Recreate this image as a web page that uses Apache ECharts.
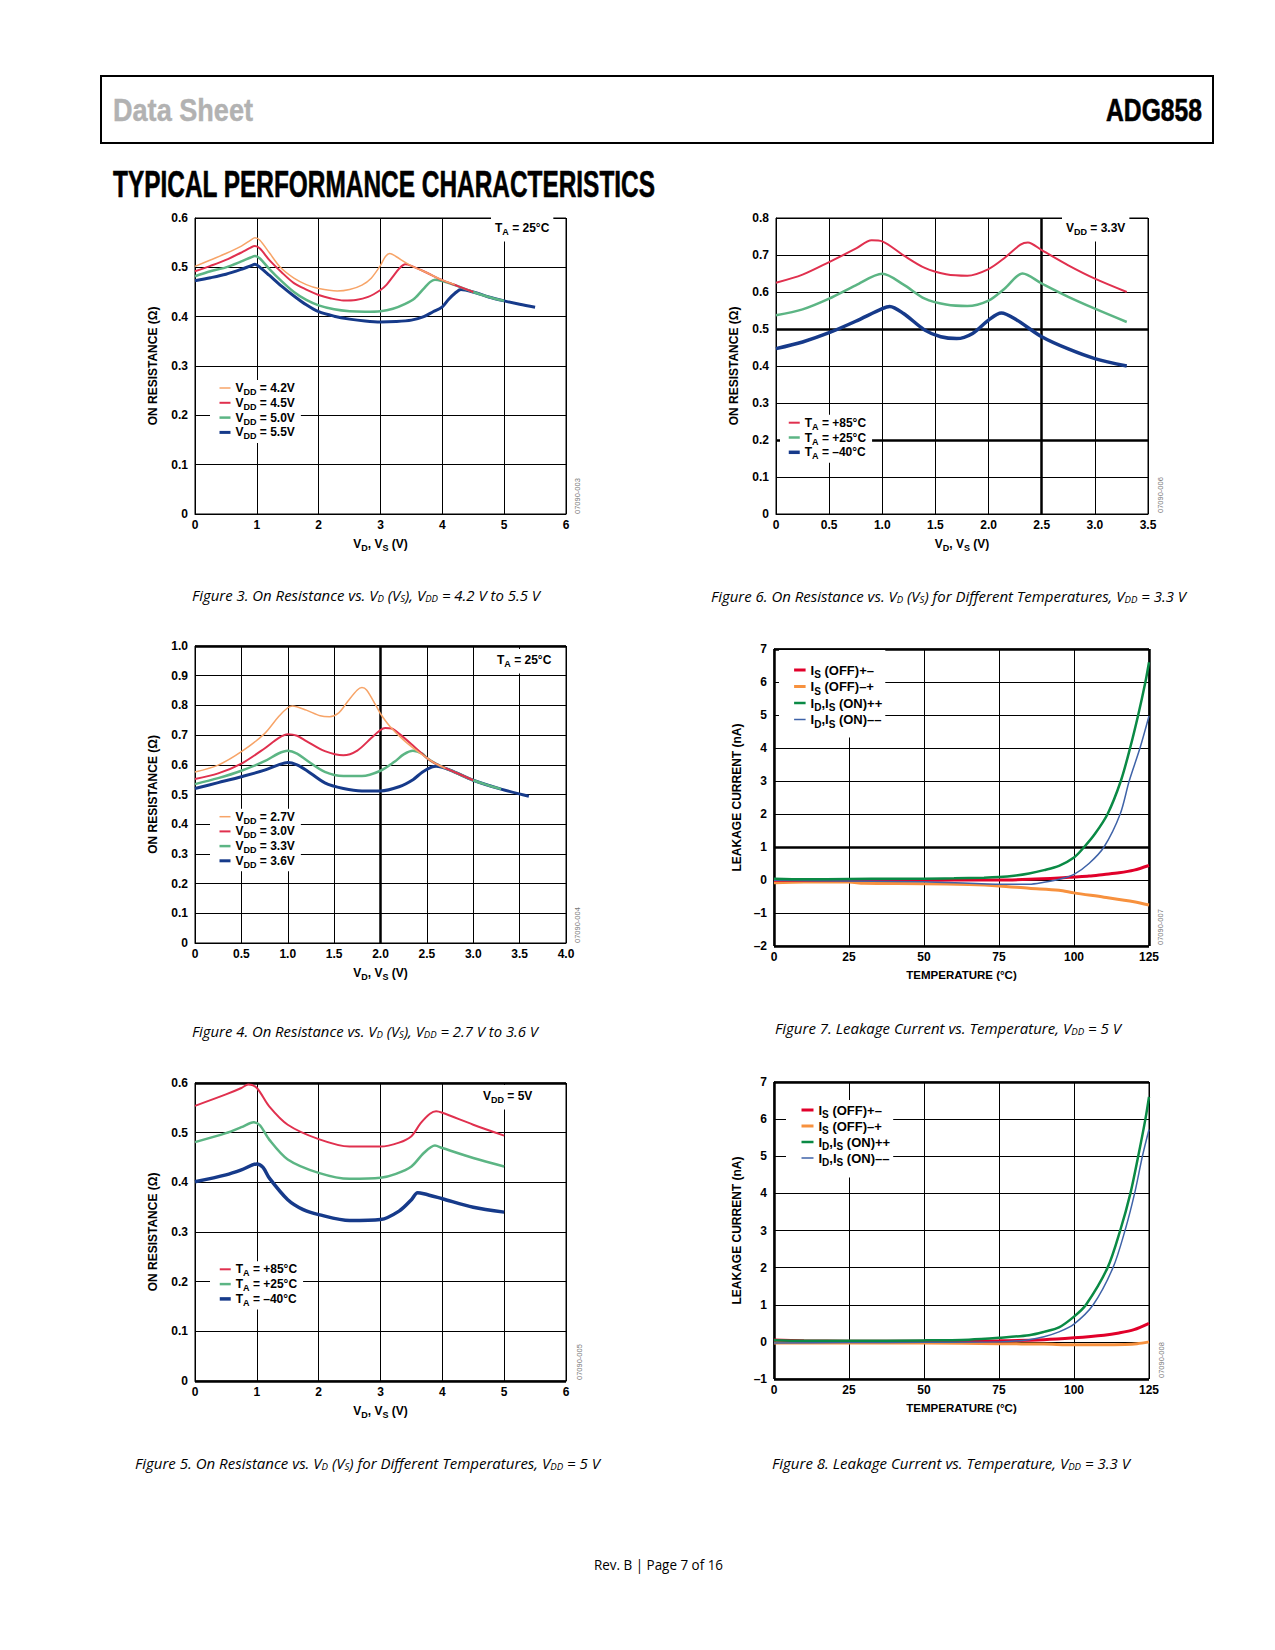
<!DOCTYPE html>
<html>
<head>
<meta charset="utf-8">
<script src="https://cdn.jsdelivr.net/npm/echarts@6/dist/echarts.min.js"></script>
<style>
html,body{margin:0;padding:0;background:#fff;}
#page{position:relative;width:1275px;height:1650px;overflow:hidden;background:#fff;}
#chart{position:absolute;left:0;top:0;width:1275px;height:1650px;}
#frame{position:absolute;left:100px;top:75px;width:1114px;height:69px;border:2px solid #000;box-sizing:border-box;}
.ov{position:absolute;white-space:nowrap;line-height:1;}
.hd{font-family:'Liberation Sans',Arial,sans-serif;font-weight:bold;-webkit-text-stroke:0.6px currentColor;}
.cap{font-family:'Open Sans','Liberation Sans',sans-serif;font-style:italic;font-size:14px;color:#000;}
.cap sub{font-size:9px;vertical-align:-1px;line-height:0;}
.foot{font-family:'Open Sans','Liberation Sans',sans-serif;font-size:14px;color:#000;}
</style>
</head>
<body>
<div id="page">
  <div id="frame"></div>
  <div id="chart"></div>
</div>
<script>
// ---------------- DATA ----------------
// Figure 3: On resistance vs VD (VS), VDD = 4.2 V to 5.5 V, TA = 25 C
const f3_42 = [[0,0.502],[0.25,0.515],[0.5,0.528],[0.75,0.543],[0.9,0.555],[0.97,0.560],[1.05,0.555],[1.2,0.530],[1.38,0.500],[1.6,0.478],[1.8,0.465],[2.0,0.457],[2.3,0.452],[2.5,0.455],[2.7,0.464],[2.85,0.478],[3.0,0.504],[3.08,0.522],[3.15,0.528],[3.25,0.522],[3.4,0.510],[3.5,0.503],[3.75,0.489],[4.0,0.474],[4.2,0.465]];
const f3_45 = [[0,0.492],[0.25,0.503],[0.5,0.515],[0.75,0.530],[0.9,0.540],[0.97,0.543],[1.05,0.538],[1.2,0.515],[1.4,0.490],[1.6,0.468],[1.8,0.455],[2.0,0.444],[2.2,0.437],[2.4,0.433],[2.6,0.434],[2.8,0.440],[3.0,0.454],[3.1,0.465],[3.2,0.481],[3.3,0.497],[3.4,0.506],[3.5,0.503],[3.75,0.489],[4.0,0.474],[4.25,0.462],[4.5,0.450]];
const f3_50 = [[0,0.482],[0.25,0.492],[0.5,0.500],[0.75,0.512],[0.9,0.520],[0.97,0.523],[1.05,0.518],[1.2,0.497],[1.4,0.472],[1.6,0.450],[1.8,0.434],[2.0,0.423],[2.25,0.415],[2.5,0.411],[2.75,0.410],[3.0,0.411],[3.2,0.416],[3.4,0.426],[3.55,0.437],[3.7,0.457],[3.8,0.470],[3.88,0.475],[4.0,0.472],[4.25,0.462],[4.5,0.450],[4.75,0.440],[5.0,0.432]];
const f3_55 = [[0,0.473],[0.25,0.479],[0.5,0.486],[0.75,0.496],[0.9,0.503],[0.97,0.506],[1.05,0.500],[1.2,0.484],[1.4,0.462],[1.6,0.442],[1.8,0.424],[2.0,0.410],[2.25,0.401],[2.5,0.395],[2.75,0.391],[3.0,0.389],[3.25,0.390],[3.5,0.393],[3.7,0.400],[3.85,0.410],[4.0,0.420],[4.1,0.435],[4.2,0.447],[4.3,0.455],[4.5,0.450],[4.75,0.440],[5.0,0.432],[5.25,0.425],[5.5,0.419]];
// Figure 4: VDD = 2.7 V to 3.6 V
const f4_27 = [[0,0.576],[0.25,0.599],[0.5,0.644],[0.75,0.705],[0.9,0.762],[1.0,0.792],[1.05,0.798],[1.2,0.784],[1.35,0.765],[1.45,0.762],[1.55,0.775],[1.65,0.815],[1.75,0.852],[1.8,0.860],[1.85,0.852],[1.95,0.800],[2.0,0.772],[2.1,0.730],[2.25,0.683],[2.4,0.645],[2.5,0.623],[2.6,0.603],[2.7,0.588]];
const f4_30 = [[0,0.552],[0.25,0.571],[0.5,0.604],[0.75,0.655],[0.9,0.690],[1.0,0.703],[1.1,0.698],[1.2,0.680],[1.4,0.646],[1.6,0.632],[1.75,0.648],[1.9,0.690],[2.0,0.717],[2.05,0.724],[2.12,0.722],[2.2,0.705],[2.35,0.665],[2.5,0.623],[2.6,0.603],[2.75,0.582],[3.0,0.548]];
const f4_33 = [[0,0.535],[0.25,0.555],[0.5,0.580],[0.75,0.612],[0.9,0.638],[1.0,0.647],[1.1,0.638],[1.2,0.616],[1.4,0.576],[1.6,0.562],[1.8,0.562],[2.0,0.580],[2.15,0.610],[2.25,0.635],[2.35,0.647],[2.45,0.638],[2.5,0.623],[2.6,0.603],[2.75,0.582],[3.0,0.548],[3.15,0.532],[3.3,0.518]];
const f4_36 = [[0,0.520],[0.25,0.540],[0.5,0.560],[0.75,0.582],[0.9,0.600],[1.0,0.608],[1.1,0.600],[1.2,0.582],[1.4,0.539],[1.6,0.520],[1.8,0.512],[2.0,0.512],[2.2,0.526],[2.35,0.550],[2.45,0.575],[2.55,0.592],[2.6,0.595],[2.75,0.582],[3.0,0.548],[3.3,0.518],[3.6,0.494]];
// Figure 5: VDD = 5 V, different temperatures
const f5_p85 = [[0,0.554],[0.5,0.577],[0.75,0.590],[0.86,0.597],[1.0,0.590],[1.2,0.553],[1.5,0.516],[2.0,0.487],[2.5,0.472],[3.0,0.472],[3.3,0.480],[3.5,0.493],[3.65,0.519],[3.8,0.538],[3.9,0.543],[4.0,0.540],[4.5,0.516],[5.0,0.494]];
const f5_p25 = [[0,0.481],[0.5,0.499],[0.75,0.511],[0.95,0.521],[1.05,0.515],[1.2,0.486],[1.5,0.446],[2.0,0.419],[2.5,0.407],[3.0,0.409],[3.25,0.417],[3.5,0.432],[3.7,0.459],[3.88,0.474],[4.0,0.469],[4.5,0.449],[5.0,0.432]];
const f5_m40 = [[0,0.401],[0.5,0.415],[0.75,0.425],[1.0,0.437],[1.1,0.430],[1.2,0.409],[1.5,0.365],[1.75,0.345],[2.0,0.335],[2.5,0.323],[3.0,0.325],[3.3,0.342],[3.5,0.365],[3.6,0.379],[3.7,0.377],[4.0,0.367],[4.5,0.350],[5.0,0.340]];
// Figure 6: VDD = 3.3 V, different temperatures
const f6_p85 = [[0,0.625],[0.25,0.647],[0.5,0.681],[0.75,0.717],[0.9,0.740],[1.0,0.737],[1.2,0.699],[1.4,0.665],[1.6,0.648],[1.8,0.644],[2.0,0.662],[2.15,0.692],[2.3,0.728],[2.37,0.734],[2.5,0.713],[2.75,0.672],[3.0,0.636],[3.3,0.600]];
const f6_p25 = [[0,0.537],[0.25,0.553],[0.5,0.582],[0.75,0.618],[1.0,0.649],[1.2,0.620],[1.4,0.582],[1.6,0.566],[1.8,0.562],[2.0,0.577],[2.15,0.609],[2.32,0.650],[2.5,0.623],[2.75,0.587],[3.0,0.555],[3.3,0.519]];
const f6_m40 = [[0,0.447],[0.25,0.465],[0.5,0.490],[0.75,0.521],[1.0,0.555],[1.07,0.561],[1.2,0.542],[1.4,0.497],[1.55,0.479],[1.7,0.474],[1.85,0.488],[2.0,0.524],[2.12,0.543],[2.25,0.527],[2.5,0.479],[2.75,0.446],[3.0,0.420],[3.3,0.400]];
// Figure 7: leakage vs temperature, VDD = 5 V
const f7_offPM = [[0,-0.01],[25,-0.01],[50,-0.01],[60,0.0],[75,0.0],[85,0.02],[95,0.06],[100,0.09],[105,0.12],[110,0.17],[115,0.22],[120,0.30],[125,0.44]];
const f7_offMP = [[0,-0.08],[10,-0.06],[25,-0.06],[30,-0.10],[50,-0.11],[65,-0.14],[75,-0.18],[85,-0.25],[95,-0.31],[100,-0.39],[110,-0.52],[120,-0.66],[125,-0.76]];
const f7_onPP = [[0,0.04],[10,0.02],[25,0.03],[40,0.04],[50,0.04],[60,0.05],[70,0.07],[75,0.09],[80,0.13],[85,0.20],[90,0.30],[95,0.43],[100,0.68],[103.4,1.0],[107,1.4],[111.2,2.0],[115.6,3.0],[118.7,4.0],[121.4,5.0],[123.8,6.0],[125,6.6]];
const f7_onMM = [[0,-0.01],[25,-0.03],[50,-0.05],[75,-0.13],[85,-0.13],[90,-0.07],[95,0.02],[100,0.17],[105,0.50],[110,1.0],[115.4,2.0],[118.4,3.0],[122,4.0],[125,4.97]];
// Figure 8: leakage vs temperature, VDD = 3.3 V
const f8_offPM = [[0,0.05],[10,0.03],[25,0.02],[50,0.02],[75,0.03],[90,0.06],[100,0.11],[110,0.18],[115,0.24],[120,0.33],[125,0.50]];
const f8_offMP = [[0,-0.03],[25,-0.03],[50,-0.03],[75,-0.05],[90,-0.06],[100,-0.08],[110,-0.08],[117,-0.07],[121,-0.05],[125,0.0]];
const f8_onPP = [[0,0.045],[10,0.03],[25,0.03],[50,0.04],[65,0.06],[75,0.11],[85,0.18],[90,0.27],[95,0.39],[100,0.68],[104,1.0],[111.2,2.0],[115.4,3.0],[118.8,4.0],[121.4,5.0],[123.8,6.0],[125,6.6]];
const f8_onMM = [[0,-0.03],[25,-0.02],[50,-0.01],[75,0.0],[85,0.06],[90,0.14],[95,0.27],[100,0.48],[106.4,1.0],[113,2.0],[117,3.0],[120.2,4.0],[122.8,5.0],[125,5.72]];

// Tick labels
const f3XLabels = ['0','1','2','3','4','5','6'];
const f3YLabels = ['0','0.1','0.2','0.3','0.4','0.5','0.6'];
const f4XLabels = ['0','0.5','1.0','1.5','2.0','2.5','3.0','3.5','4.0'];
const f4YLabels = ['0','0.1','0.2','0.3','0.4','0.5','0.6','0.7','0.8','0.9','1.0'];
const f6XLabels = ['0','0.5','1.0','1.5','2.0','2.5','3.0','3.5'];
const f6YLabels = ['0','0.1','0.2','0.3','0.4','0.5','0.6','0.7','0.8'];
const lkXLabels = ['0','25','50','75','100','125'];
const f7YLabels = ['\u20132','\u20131','0','1','2','3','4','5','6','7'];
const f8YLabels = ['\u20131','0','1','2','3','4','5','6','7'];

// Series names
const resNames3 = ['VDD = 4.2V','VDD = 4.5V','VDD = 5.0V','VDD = 5.5V'];
const resNames4 = ['VDD = 2.7V','VDD = 3.0V','VDD = 3.3V','VDD = 3.6V'];
const tempNames = ['TA = +85°C','TA = +25°C','TA = \u201340°C'];
const lkNames = ['IS (OFF)+\u2013','IS (OFF)\u2013+','ID,IS (ON)++','ID,IS (ON)\u2013\u2013'];

// ---------------- STYLE ----------------
const FONT = "'Liberation Sans', Arial, Helvetica, sans-serif";
const C = {orange:'#F7A468', red:'#E0304E', green:'#5CB584', navy:'#163A8A',
           lkRed:'#E1002A', lkOrange:'#F7913E', lkGreen:'#0A8A45', lkBlue:'#3F63A8'};

function richStyles(fs, sfs) {
  return {
    n: {fontFamily:FONT, fontWeight:'bold', fontSize:fs, lineHeight:fs, color:'#000', verticalAlign:'middle'},
    s: {fontFamily:FONT, fontWeight:'bold', fontSize:sfs, lineHeight:4, height:4, color:'#000', verticalAlign:'bottom'}
  };
}
function toRich(str) {
  let out = '', last = 0, m;
  const re = /([VTI])(DD|A|D|S)(?=[\s,=()]|$)/g;
  while ((m = re.exec(str))) {
    if (m.index > last) out += '{n|' + str.slice(last, m.index) + '}';
    out += '{n|' + m[1] + '}{s|' + m[2] + '}';
    last = m.index + m[0].length;
  }
  if (last < str.length) out += '{n|' + str.slice(last) + '}';
  return out;
}

const charts = [
  { // Figure 3
    grid:{left:195, top:218, width:371, height:296},
    x:[0,6,1,f3XLabels], y:[0,0.6,0.1,f3YLabels],
    xName:'VD, VS (V)', yName:'ON RESISTANCE (Ω)', xGap:24, yGap:36, xNameFs:12,
    series:[[resNames3[3],f3_55,C.navy,3],[resNames3[2],f3_50,C.green,2.5],[resNames3[1],f3_45,C.red,2],[resNames3[0],f3_42,C.orange,1.5]],
    legend:{names:resNames3, widths:[1.5,2,2.5,3], left:210, top:380, padding:[2,6,2,8], gap:0.3, fs:12, sfs:9, iw:11},
    note:{text:'TA = 25°C', left:491, top:217}, code:{t:'07090-003', x:577, y:514}, thick:[]
  },
  { // Figure 6
    grid:{left:776, top:218, width:372, height:296},
    x:[0,3.5,0.5,f6XLabels], y:[0,0.8,0.1,f6YLabels],
    xName:'VD, VS (V)', yName:'ON RESISTANCE (Ω)', xGap:24, yGap:36, xNameFs:12,
    series:[[tempNames[0],f6_p85,C.red,2],[tempNames[1],f6_p25,C.green,2.5],[tempNames[2],f6_m40,C.navy,3.5]],
    legend:{names:tempNames, widths:[2,2.5,3.5], left:780, top:414.7, padding:[2,6,2,7], gap:0.3, fs:12, sfs:9, iw:11},
    note:{text:'VDD = 3.3V', left:1062, top:217}, code:{t:'07090-006', x:1160, y:513},
    thick:[['y',0.5],['y',0.2],['x',2.5]]
  },
  { // Figure 4
    grid:{left:195, top:646, width:371, height:297},
    x:[0,4,0.5,f4XLabels], y:[0,1.0,0.1,f4YLabels],
    xName:'VD, VS (V)', yName:'ON RESISTANCE (Ω)', xGap:24, yGap:36, xNameFs:12,
    series:[[resNames4[3],f4_36,C.navy,3],[resNames4[2],f4_33,C.green,2.5],[resNames4[1],f4_30,C.red,2],[resNames4[0],f4_27,C.orange,1.5]],
    legend:{names:resNames4, widths:[1.5,2,2.5,3], left:210, top:808.7, padding:[2,6,2,8], gap:0.2, fs:12, sfs:9, iw:11},
    note:{text:'TA = 25°C', left:493, top:649}, code:{t:'07090-004', x:577, y:943},
    thick:[['y',1.0],['x',2.0]]
  },
  { // Figure 7
    grid:{left:774, top:649, width:375, height:297},
    x:[0,125,25,lkXLabels], y:[-2,7,1,f7YLabels],
    xName:'TEMPERATURE (°C)', yName:'LEAKAGE CURRENT (nA)', xGap:23, yGap:31, xNameFs:11.5,
    series:[[lkNames[1],f7_offMP,C.lkOrange,3],[lkNames[0],f7_offPM,C.lkRed,3],[lkNames[3],f7_onMM,C.lkBlue,1.5],[lkNames[2],f7_onPP,C.lkGreen,2.5]],
    legend:{names:lkNames, widths:[3,3,2.5,1.5], left:779, top:650, padding:[13.5,3,8.5,13.6], gap:0.5, fs:13, sfs:10, iw:11.5},
    note:null, code:{t:'07090-007', x:1160, y:945},
    thick:[['y',7],['y',-2],['y',1],['x',0],['x',125]]
  },
  { // Figure 5
    grid:{left:195, top:1083, width:371, height:298},
    x:[0,6,1,f3XLabels], y:[0,0.6,0.1,f3YLabels],
    xName:'VD, VS (V)', yName:'ON RESISTANCE (Ω)', xGap:24, yGap:36, xNameFs:12,
    series:[[tempNames[0],f5_p85,C.red,2],[tempNames[1],f5_p25,C.green,2.5],[tempNames[2],f5_m40,C.navy,3.5]],
    legend:{names:tempNames, widths:[2,2.5,3.5], left:210, top:1261.3, padding:[2,6,2,8], gap:0.3, fs:12, sfs:9, iw:11},
    note:{text:'VDD = 5V', left:479, top:1085}, code:{t:'07090-005', x:579, y:1380},
    thick:[['y',0.6],['y',0]]
  },
  { // Figure 8
    grid:{left:774, top:1082, width:375, height:297},
    x:[0,125,25,lkXLabels], y:[-1,7,1,f8YLabels],
    xName:'TEMPERATURE (°C)', yName:'LEAKAGE CURRENT (nA)', xGap:23, yGap:31, xNameFs:11.5,
    series:[[lkNames[1],f8_offMP,C.lkOrange,3],[lkNames[0],f8_offPM,C.lkRed,3],[lkNames[3],f8_onMM,C.lkBlue,1.5],[lkNames[2],f8_onPP,C.lkGreen,2.5]],
    legend:{names:lkNames, widths:[3,3,2.5,1.5], left:786, top:1100, padding:[3.5,3,10,14], gap:0, fs:13, sfs:10, iw:12},
    note:null, code:{t:'07090-008', x:1161, y:1378},
    thick:[['y',7],['y',-1],['x',0]]
  }
];

// ---------------- OPTION ----------------
const option = {
  animation:false,
  textStyle:{fontFamily:FONT},
  grid:[], xAxis:[], yAxis:[], series:[], legend:[], title:[], graphic:[]
};

const tickLabel = {color:'#000', fontFamily:FONT, fontWeight:'bold', fontSize:12};

charts.forEach((c, i) => {
  option.grid.push(Object.assign({show:true, borderColor:'#000', borderWidth:1, containLabel:false}, c.grid));
  const xl = c.x[3], yl = c.y[3];
  option.xAxis.push({
    type:'value', gridIndex:i, min:c.x[0], max:c.x[1], interval:c.x[2],
    axisLine:{show:true, lineStyle:{color:'#000', width:1}}, axisTick:{show:false},
    splitLine:{show:true, lineStyle:{color:'#000', width:1}},
    axisLabel:Object.assign({margin:5, formatter:(v, idx) => xl[idx] !== undefined ? xl[idx] : String(v)}, tickLabel),
    name:toRich(c.xName), nameLocation:'middle', nameGap:c.xGap,
    nameTextStyle:{rich:richStyles(c.xNameFs, 9)}
  });
  option.yAxis.push({
    type:'value', gridIndex:i, min:c.y[0], max:c.y[1], interval:c.y[2],
    axisLine:{show:true, lineStyle:{color:'#000', width:1}}, axisTick:{show:false},
    splitLine:{show:true, lineStyle:{color:'#000', width:1}},
    axisLabel:Object.assign({margin:7, formatter:(v, idx) => yl[idx] !== undefined ? yl[idx] : String(v)}, tickLabel),
    name:c.yName, nameLocation:'middle', nameGap:c.yGap, nameRotate:90,
    nameTextStyle:{color:'#000', fontFamily:FONT, fontWeight:'bold', fontSize:12}
  });
  c.series.forEach((s, k) => {
    const ser = {
      type:'line', name:s[0], data:s[1], xAxisIndex:i, yAxisIndex:i,
      smooth:0.3, symbol:'none', showSymbol:false,
      color:s[2], lineStyle:{color:s[2], width:s[3]}, itemStyle:{color:s[2]},
      emphasis:{disabled:true}, silent:true, z:3
    };
    if (k === 0 && c.thick.length) {
      ser.markLine = {
        silent:true, z:1, symbol:['none','none'], label:{show:false}, animation:false,
        lineStyle:{color:'#000', width:2.5, type:'solid'}, emphasis:{disabled:true},
        data:c.thick.map(t => t[0] === 'x' ? {xAxis:t[1]} : {yAxis:t[1]})
      };
    }
    option.series.push(ser);
  });
  const L = c.legend;
  option.legend.push({
    orient:'vertical', left:L.left, top:L.top, padding:L.padding, itemGap:L.gap,
    itemWidth:L.iw, itemHeight:L.fs, backgroundColor:'#fff', selectedMode:false, z:6,
    itemStyle:{opacity:0},
    data:L.names.map((n, k) => ({name:n, lineStyle:{width:L.widths[k]}})),
    formatter:toRich,
    textStyle:{color:'#000', fontFamily:FONT, fontWeight:'bold', fontSize:L.fs, rich:richStyles(L.fs, L.sfs)}
  });
  if (c.note) {
    option.title.push({
      text:toRich(c.note.text), left:c.note.left, top:c.note.top, backgroundColor:'#fff', z:6,
      padding:[5,4,5,4], textStyle:{rich:richStyles(12, 9)}
    });
  }
  option.graphic.push({
    type:'text', x:c.code.x, y:c.code.y, rotation:Math.PI/2, silent:true,
    style:{text:c.code.t, fontSize:7.5, fill:'#777', fontFamily:FONT, align:'left', verticalAlign:'middle'}
  });
});

const chart = echarts.init(document.getElementById('chart'), null, {renderer:'svg', width:1275, height:1650});
chart.setOption(option);

// ---------------- PAGE TEXT ----------------
const page = document.getElementById('page');
function place(html, cls, style, left, cy, targetW, centered) {
  const el = document.createElement('div');
  el.className = 'ov ' + cls;
  el.innerHTML = html;
  Object.assign(el.style, style || {});
  page.appendChild(el);
  const w = el.getBoundingClientRect().width;
  const s = targetW / w;
  const x = centered ? left - targetW / 2 : left;
  el.style.left = x + 'px';
  el.style.top = cy + 'px';
  el.style.transformOrigin = '0 0';
  el.style.transform = 'translateY(-50%) scaleX(' + s + ')';
  return el;
}
place('Data Sheet', 'hd', {fontSize:'31px', color:'#b2b2b2', WebkitTextStroke:'0.4px #b2b2b2'}, 113, 110, 140, false);
place('ADG858', 'hd', {fontSize:'31px', color:'#000'}, 1106, 110, 96, false);
place('TYPICAL PERFORMANCE CHARACTERISTICS', 'hd', {fontSize:'36px', color:'#000'}, 113, 185, 542, false);

const captions = [
  ['Figure 3. On Resistance vs. V<sub>D</sub> (V<sub>S</sub>), V<sub>DD</sub> = 4.2 V to 5.5 V', 366, 596, 348],
  ['Figure 6. On Resistance vs. V<sub>D</sub> (V<sub>S</sub>) for Different Temperatures, V<sub>DD</sub> = 3.3 V', 948, 597, 475],
  ['Figure 4. On Resistance vs. V<sub>D</sub> (V<sub>S</sub>), V<sub>DD</sub> = 2.7 V to 3.6 V', 365, 1032, 346],
  ['Figure 7. Leakage Current vs. Temperature, V<sub>DD</sub> = 5 V', 948, 1029, 346],
  ['Figure 5. On Resistance vs. V<sub>D</sub> (V<sub>S</sub>) for Different Temperatures, V<sub>DD</sub> = 5 V', 367, 1464, 465],
  ['Figure 8. Leakage Current vs. Temperature, V<sub>DD</sub> = 3.3 V', 951, 1464, 358]
];
captions.forEach(c => place(c[0], 'cap', null, c[1], c[2], c[3], true));
place('Rev. B | Page 7 of 16', 'foot', null, 658, 1565, 129, true);
</script>
</body>
</html>
